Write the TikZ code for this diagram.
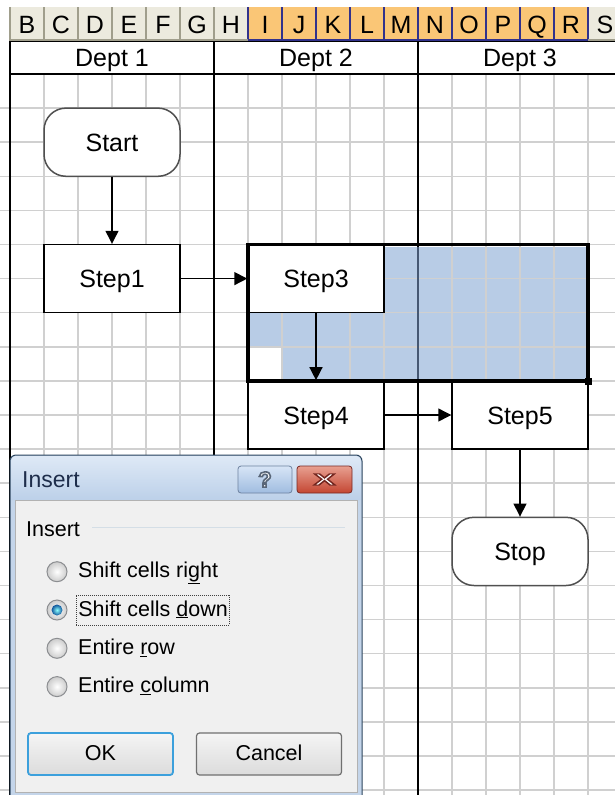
\documentclass[tikz,border=0pt]{standalone}
\usepackage{fontspec}
\setmainfont{Liberation Sans}
\usetikzlibrary{positioning,arrows.meta}

\definecolor{gridgray}{RGB}{208,208,208}
\definecolor{hdrgray}{RGB}{236,234,222}
\definecolor{hdrorange}{RGB}{250,198,118}
\definecolor{hdrline}{RGB}{160,158,140}
\definecolor{hdrselline}{RGB}{50,50,140}
\definecolor{selblue}{RGB}{184,204,230}
\definecolor{deptsel}{RGB}{70,88,115}
\definecolor{termgray}{RGB}{80,80,80}
\definecolor{frameblue}{RGB}{196,213,234}
\definecolor{titletop}{RGB}{222,233,246}
\definecolor{titlebot}{RGB}{188,208,233}
\definecolor{dlgedge}{RGB}{45,70,95}
\definecolor{dlgbg}{RGB}{240,240,240}
\definecolor{titletext}{RGB}{30,45,75}
\definecolor{sepline}{RGB}{212,222,230}
\definecolor{okblue}{RGB}{60,160,220}
\definecolor{btngray}{RGB}{112,112,112}
\definecolor{helptop}{RGB}{215,229,246}
\definecolor{helpbot}{RGB}{160,188,224}
\definecolor{helpedge}{RGB}{110,130,160}
\definecolor{closetop}{RGB}{232,160,145}
\definecolor{closebot}{RGB}{196,70,50}
\definecolor{closeedge}{RGB}{120,40,35}
\definecolor{radioedge}{RGB}{140,142,145}
\definecolor{radiodot}{RGB}{15,85,155}

\begin{document}
\begin{tikzpicture}[x=1pt, y=-1pt, node distance=136.4pt, >={Triangle[length=13pt,width=13pt]},
    cellfont/.style={font=\fontsize{25}{30}\selectfont, text height=23pt, text depth=5pt},
    dlgfont/.style={font=\fontsize{21.5}{26}\selectfont, text height=15pt, text depth=3pt, inner sep=0pt},
    gridline/.style={draw=gridgray, line width=1.5pt},
    deptline/.style={draw=black, line width=2pt},
    stepbox/.style={draw, rectangle, line width=1.5pt, fill=white, minimum width=136pt, minimum height=68.2pt, cellfont},
    endbox/.style={stepbox, draw=termgray, rounded corners=22pt},
    flow/.style={->, line width=1.5pt},
    radio/.style={circle, draw=radioedge, line width=1pt, minimum size=20pt, inner sep=0pt, inner color=white, outer color=black!20},
    button/.style={draw, rounded corners=3pt, line width=1.2pt, minimum width=145pt, minimum height=42pt, top color=white!96!black, bottom color=black!14, dlgfont}]

    \useasboundingbox (0,0) rectangle (615,795);
    \clip (0,0) rectangle (615,795);
    \fill[white] (0,0) rectangle (615,795);

    % Selected range
    \fill[selblue] (250,247) rectangle (586,379);
    \fill[white] (248,346.8) rectangle (282,380.9);

    % Sheet grid
    \foreach \i in {1,...,17} \draw[gridline] ({10+34*\i},74) -- ({10+34*\i},795);
    \foreach \k in {1,...,21} \draw[gridline] (0,{74+34.1*\k}) -- (615,{74+34.1*\k});

    % Column headers
    \fill[hdrgray] (10,7) rectangle (615,40.5);
    \fill[hdrorange] (248,7) rectangle (588,40.5);
    \foreach \i in {0,...,7} \draw[hdrline, line width=1.5pt] ({10+34*\i},7) -- ({10+34*\i},40.5);
    \foreach \i in {7,...,17} \draw[hdrselline, line width=1.5pt] ({10+34*\i},7) -- ({10+34*\i},40.5);
    \foreach \col [count=\i from 0] in {B,C,D,E,F,G,H,I,J,K,L,M,N,O,P,Q,R,S}
        \node[cellfont] (hdr\col) at ({27+34*\i},24) {\col};
    \draw[black, line width=1pt] (10,41) -- (615,41);
    \draw[hdrline, line width=1.5pt] (10,40) -- (248,40);
    \draw[hdrselline, line width=1.5pt] (248,40) -- (588,40);
    \draw[hdrline, line width=1.5pt] (588,40) -- (615,40);

    % Departments
    \node[cellfont] (dept1) at (112,57.5) {Dept 1};
    \node[cellfont] (dept2) at (316,57.5) {Dept 2};
    \node[cellfont] (dept3) at (520,57.5) {Dept 3};
    \draw[black, line width=2.5pt] (9,74) -- (615,74);
    \foreach \x in {10,214,418} \draw[deptline] (\x,41) -- (\x,795);
    \draw[deptsel, line width=2pt] (418,247) -- (418,379);

    % Nodes
    \node[endbox] (start) at (112,142.2) {Start};
    \node[stepbox, below of=start] (step1) {Step1};
    \node[stepbox, right of=step1, node distance=204pt] (step3) {Step3};
    \node[stepbox, below of=step3] (step4) {Step4};
    \node[stepbox, right of=step4, node distance=204pt] (step5) {Step5};
    \node[endbox, below of=step5] (stop) {Stop};

    % Arrows
    \draw[flow] (start) -- (step1);
    \draw[flow] (step1) -- (step3);
    \draw[flow] (step3) -- (step4);
    \draw[flow] (step4) -- (step5);
    \draw[flow] (step5) -- (stop);

    % Selection border and fill handle
    \draw[line width=3.5pt] (248,244.5) rectangle (588,380.9);
    \fill[black] (584.5,377.5) rectangle (591.5,384.5);

    % Insert dialog
    \fill[frameblue, rounded corners=6pt] (10,455) rectangle (362,805);
    \shade[top color=titletop, bottom color=titlebot] (11,500) [rounded corners=5pt] -- (11,456) -- (361,456) [sharp corners] -- (361,500) -- cycle;
    \draw[dlgedge, line width=1pt, rounded corners=6pt] (10,805) -- (10,455) -- (362,455) -- (362,805);
    \fill[dlgbg] (15,500) rectangle (357,792.5);
    \draw[black!30, line width=0.6pt] (15,500) rectangle (357,792.5);
    \node[font=\fontsize{23}{28}\selectfont, text=titletext, anchor=west, inner sep=0pt] (title) at (22,480) {Insert};
    \node[draw=helpedge, line width=0.8pt, rounded corners=3pt, top color=helptop, bottom color=helpbot, minimum width=54pt, minimum height=27pt, inner sep=0pt, font=\fontsize{22}{24}\selectfont\bfseries] (help) at (265,479.5)
        {\textcolor{white}{\special{pdf:literal direct 2 Tr 1.6 w 0.35 0.4 0.47 RG}?\special{pdf:literal direct 0 Tr}}};
    \node[draw=closeedge, line width=0.8pt, rounded corners=3pt, top color=closetop, bottom color=closebot, minimum width=55pt, minimum height=27pt, inner sep=0pt, font=\fontsize{16}{18}\selectfont\bfseries] (close) at (324.5,479.5)
        {\textcolor{white}{\special{pdf:literal direct 2 Tr 1 w 0.45 0.15 0.12 RG}\scalebox{2}[1]{X}\special{pdf:literal direct 0 Tr}}};

    \node[dlgfont, anchor=west] (grp) at (26,530) {Insert};
    \draw[sepline, line width=1pt] ([xshift=12pt, yshift=3pt]grp.east) -- (345,527);

    \node[radio] (rright) at (57,571.7) {};
    \node[radio, below of=rright, node distance=38.3pt] (rdown) {};
    \node[radio, below of=rdown, node distance=38.3pt] (rrow) {};
    \node[radio, below of=rrow, node distance=38.3pt] (rcol) {};
    \shade[inner color=cyan!45!white, outer color=radiodot] (rdown.center) circle (5.5pt);

    \node[dlgfont, right=10.5pt of rright] (tright) {Shift cells ri\underline{g}ht};
    \node[dlgfont, right=8.5pt of rdown, draw=black!75, dash pattern=on 1pt off 1pt, line width=0.8pt, inner xsep=2pt, inner ysep=6pt] (tdown) {Shift cells \underline{d}own};
    \node[dlgfont, right=10.5pt of rrow] (trow) {Entire \underline{r}ow};
    \node[dlgfont, right=10.5pt of rcol] (tcol) {Entire \underline{c}olumn};

    \node[button, draw=okblue, line width=1.8pt] (ok) at (100.5,754) {OK};
    \node[button, draw=btngray, right=22pt of ok] (cancel) {Cancel};
\end{tikzpicture}
\end{document}
